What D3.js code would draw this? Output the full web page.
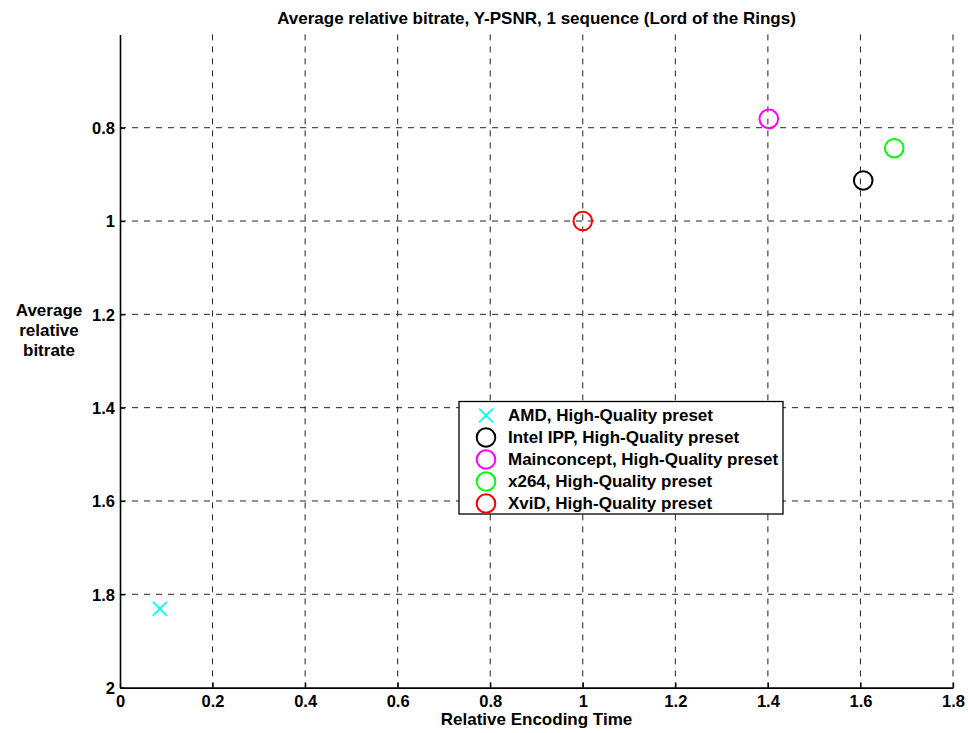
<!DOCTYPE html>
<html><head><meta charset="utf-8">
<script src="https://cdn.jsdelivr.net/npm/d3@7"></script>
<style>body{margin:0;background:#fff;} text{font-family:"Liberation Sans",Arial,Helvetica,sans-serif;font-weight:bold;}</style>
</head><body>
<svg id="chart" width="968" height="733"></svg>
<script>
const series = ["AMD, High-Quality preset","Intel IPP, High-Quality preset","Mainconcept, High-Quality preset","x264, High-Quality preset","XviD, High-Quality preset"];
const colors = ["#00ffff","#000000","#ff00ff","#00ff00","#ff0000"];
const markers = ["x","o","o","o","o"];
const encTime = [0.086, 1.606, 1.402, 1.673, 1.0];
const bitrate = [1.831, 0.913, 0.781, 0.844, 1.0];
const xTicks = [0,0.2,0.4,0.6,0.8,1,1.2,1.4,1.6,1.8];
const yTicks = [0.8,1,1.2,1.4,1.6,1.8,2];

const svg = d3.select("#chart");
const L=120, R=953, T=34.4, B=687.6;
const x = d3.scaleLinear().domain([0,1.8]).range([L,R]);
const y = d3.scaleLinear().domain([0.6,2]).range([T,B]);

// grid
const g = svg.append("g");
g.selectAll("line.vg").data(xTicks.filter(d=>d>0)).join("line")
  .attr("x1",d=>x(d)).attr("x2",d=>x(d)).attr("y1",T).attr("y2",B)
  .attr("stroke","#222").attr("stroke-width",1).attr("stroke-dasharray","6,6");
g.selectAll("line.hg").data(yTicks.filter(d=>d<2)).join("line")
  .attr("y1",d=>y(d)).attr("y2",d=>y(d)).attr("x1",L).attr("x2",R)
  .attr("stroke","#222").attr("stroke-width",1).attr("stroke-dasharray","6,6");

// axes
const xAxis = d3.axisBottom(x).tickValues(xTicks).tickFormat(d3.format("")).tickSizeInner(-5).tickSizeOuter(0).tickPadding(8);
const yAxis = d3.axisLeft(y).tickValues(yTicks).tickFormat(d3.format("")).tickSizeInner(-5).tickSizeOuter(0).tickPadding(5);
const gx = svg.append("g").attr("transform",`translate(0,${B})`).call(xAxis);
const gy = svg.append("g").attr("transform",`translate(${L},0)`).call(yAxis);
[gx,gy].forEach(a=>{
  a.select(".domain").attr("stroke","#000").attr("stroke-width",1.6);
  a.selectAll(".tick line").attr("stroke","#000").attr("stroke-width",1.3);
  a.selectAll(".tick text").attr("fill","#000").style("font-size","16.5px").style("font-weight","bold").style("font-family","'Liberation Sans',Arial,sans-serif");
});
gx.selectAll(".tick text").attr("dy","0.71em");
gy.selectAll(".tick text").attr("dy","0.35em");

// title & labels
svg.append("text").attr("x",(L+R)/2).attr("y",23.5).attr("text-anchor","middle").style("font-size","17px").text("Average relative bitrate, Y-PSNR, 1 sequence (Lord of the Rings)");
svg.append("text").attr("x",(L+R)/2).attr("y",725).attr("text-anchor","middle").style("font-size","17px").text("Relative Encoding Time");
const yl = svg.append("text").attr("text-anchor","middle").style("font-size","17px");
["Average","relative","bitrate"].forEach((t,i)=>yl.append("tspan").attr("x",49).attr("y",316+i*20).text(t));

// marker drawing
function drawMarker(sel, type, cx, cy, color, r){
  if(type==="o"){
    sel.append("circle").attr("cx",cx).attr("cy",cy).attr("r",r).attr("fill","none").attr("stroke",color).attr("stroke-width",2);
  } else {
    const s=r*0.75;
    sel.append("path").attr("d",`M${cx-s},${cy-s}L${cx+s},${cy+s}M${cx-s},${cy+s}L${cx+s},${cy-s}`).attr("stroke",color).attr("stroke-width",1.8).attr("fill","none");
  }
}
const pts = svg.append("g");
series.forEach((s,i)=>drawMarker(pts, markers[i], x(encTime[i]), y(bitrate[i]), colors[i], 9.3));

// legend
const lg = svg.append("g");
lg.append("rect").attr("x",459).attr("y",401.5).attr("width",324).attr("height",112.5).attr("fill","#fff").attr("stroke","#000").attr("stroke-width",1.3);
series.forEach((s,i)=>{
  const cy = 415.5 + i*22;
  drawMarker(lg, markers[i], 486, cy, colors[i], 9.3);
  lg.append("text").attr("x",508).attr("y",cy).attr("dy","0.35em").style("font-size","17px").text(s);
});
</script>
</body></html>
